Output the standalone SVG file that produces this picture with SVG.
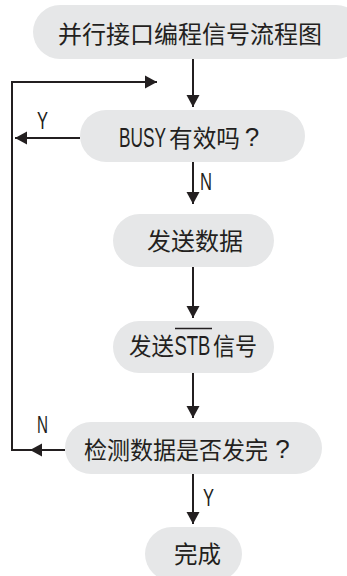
<svg xmlns="http://www.w3.org/2000/svg" width="347" height="576" viewBox="0 0 347 576">
<defs>
<marker id="ah" markerWidth="12" markerHeight="14" viewBox="0 0 12 14" refX="12" refY="7" orient="auto" markerUnits="userSpaceOnUse">
<path d="M0,0.5 L12,7 L0,13.5 Z" fill="#231f20"/>
</marker>
<style>
.box{fill:#e6e7e8}
.t{font-family:"Noto Sans CJK SC",sans-serif;font-size:24px;fill:#231f20;dominant-baseline:central}
.l{font-family:"Liberation Sans",Arial,sans-serif;font-size:28px;fill:#231f20}
.q{font-family:"Liberation Sans",Arial,sans-serif;font-size:26px;fill:#231f20;text-anchor:middle}
.lbl{font-family:"Liberation Sans",Arial,sans-serif;font-size:23px;fill:#231f20}
.c{fill:none;stroke:#231f20;stroke-width:2}
</style>
</defs>
<rect width="347" height="576" fill="#ffffff"/>
<g id="connectors">
<line class="c" x1="193" y1="59" x2="193" y2="107" marker-end="url(#ah)"/>
<polyline class="c" points="30,450 12,450 12,82 157,82" marker-end="url(#ah)"/>
<line class="c" x1="80" y1="138" x2="15" y2="138" marker-end="url(#ah)"/>
<line class="c" x1="193" y1="162" x2="193" y2="204" marker-end="url(#ah)"/>
<line class="c" x1="193" y1="267" x2="193" y2="318" marker-end="url(#ah)"/>
<line class="c" x1="193" y1="373" x2="193" y2="418" marker-end="url(#ah)"/>
<line class="c" x1="65" y1="450" x2="30" y2="450" marker-end="url(#ah)"/>
<line class="c" x1="193" y1="474" x2="193" y2="524" marker-end="url(#ah)"/>
<text class="lbl" x="37" y="129" textLength="11" lengthAdjust="spacingAndGlyphs">Y</text>
<text class="lbl" x="200" y="190" textLength="12" lengthAdjust="spacingAndGlyphs">N</text>
<text class="lbl" x="37" y="433" textLength="11" lengthAdjust="spacingAndGlyphs">N</text>
<text class="lbl" x="203" y="506" textLength="11" lengthAdjust="spacingAndGlyphs">Y</text>
</g>
<g id="n1">
<rect class="box" x="33" y="5" width="330" height="54" rx="27"/>
<text class="t" x="58" y="32" textLength="264" lengthAdjust="spacingAndGlyphs">并行接口编程信号流程图</text>
</g>
<g id="n2">
<rect class="box" x="80" y="110" width="225" height="52" rx="26"/>
<text class="l" x="0" y="0" transform="translate(119,147) scale(0.617,1)">BUSY</text>
<text class="t" x="169" y="136" textLength="71" lengthAdjust="spacingAndGlyphs">有效吗</text>
<text class="q" x="252" y="146">?</text>
</g>
<g id="n3">
<rect class="box" x="113" y="214" width="161" height="53" rx="26.5"/>
<text class="t" x="147" y="239" textLength="96" lengthAdjust="spacingAndGlyphs">发送数据</text>
</g>
<g id="n4">
<rect class="box" x="113" y="321" width="161" height="52" rx="26"/>
<text class="t" x="129" y="344.5" textLength="45" lengthAdjust="spacingAndGlyphs">发送</text>
<text class="l" x="0" y="0" transform="translate(174.5,355) scale(0.66,1)">STB</text>
<text class="t" x="213" y="344.5" textLength="44" lengthAdjust="spacingAndGlyphs">信号</text>
<line x1="175" y1="328.5" x2="212" y2="328.5" stroke="#231f20" stroke-width="1.5"/>
</g>
<g id="n5">
<rect class="box" x="65" y="422" width="257" height="52" rx="26"/>
<text class="t" x="84" y="448" textLength="184" lengthAdjust="spacingAndGlyphs">检测数据是否发完</text>
<text class="q" x="282.5" y="458">?</text>
</g>
<g id="n6">
<rect class="box" x="145" y="527" width="97" height="54" rx="27"/>
<text class="t" x="174" y="552.5" textLength="47" lengthAdjust="spacingAndGlyphs">完成</text>
</g>
</svg>
